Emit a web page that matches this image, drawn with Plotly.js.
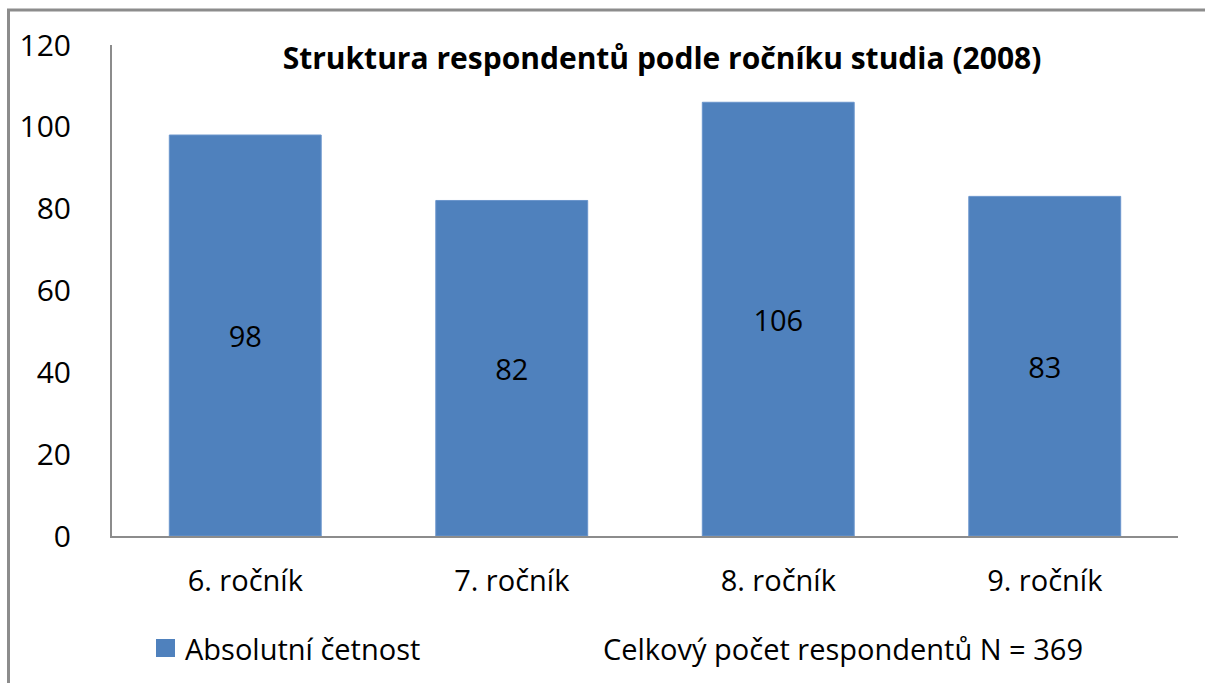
<!DOCTYPE html>
<html>
<head>
<meta charset="utf-8">
<script src="https://cdn.plot.ly/plotly-3.0.1.min.js"></script>
<style>html,body{margin:0;padding:0;background:#fff;}</style>
</head>
<body>
<div id="chart" style="width:1205px;height:683px;"></div>
<script>
const categories = ["6. ročník", "7. ročník", "8. ročník", "9. ročník"];
const values = [98, 82, 106, 83];
const seriesName = "Absolutní četnost";
const titleText = "Struktura respondentů podle ročníku studia (2008)";
const noteText = "Celkový počet respondentů N = 369";
const yTicks = [0, 20, 40, 60, 80, 100, 120];

const FONT = "Open Sans, Noto Sans, sans-serif";
const BAR_COLOR = "#4F81BD";

const L = 112, R = 1178, T = 45, B = 536, W = 1205, H = 683;
const px2x = p => (p - L) / (R - L);
const py2y = p => (B - p) / (B - T);

const trace = {
  type: "bar",
  x: categories,
  y: values,
  name: seriesName,
  text: values.map(String),
  textposition: "inside",
  insidetextanchor: "middle",
  textfont: {family: FONT, size: 29, color: "#000"},
  marker: {color: BAR_COLOR, line: {color: "#6A95CC", width: 1}},
  width: 0.57,
  showlegend: false,
  hoverinfo: "x+y"
};

const layout = {
  width: W, height: H,
  margin: {l: L, r: W - R, t: T, b: H - B, pad: 0},
  paper_bgcolor: "#fff",
  plot_bgcolor: "#fff",
  font: {family: FONT, color: "#000"},
  title: {
    text: "<b>" + titleText + "</b>",
    font: {family: FONT, size: 30, color: "#000"},
    x: 662 / W, xanchor: "center",
    y: 1 - 58 / H, yanchor: "middle"
  },
  xaxis: {
    type: "category",
    showgrid: false,
    showline: true, linecolor: "#8C8C8C", linewidth: 2,
    ticks: "",
    ticklabelstandoff: 18,
    tickfont: {family: FONT, size: 29, color: "#000"},
    fixedrange: true
  },
  yaxis: {
    range: [0, 120],
    tickvals: yTicks,
    ticktext: yTicks.map(String),
    showgrid: false, zeroline: false,
    showline: true, linecolor: "#8C8C8C", linewidth: 2,
    ticks: "",
    ticklabelstandoff: 33,
    tickfont: {family: FONT, size: 30, color: "#000"},
    fixedrange: true
  },
  showlegend: false,
  annotations: [
    {
      text: seriesName,
      xref: "paper", yref: "paper",
      x: px2x(183), xanchor: "left",
      y: py2y(648), yanchor: "middle",
      showarrow: false,
      font: {family: FONT, size: 29, color: "#000"}
    },
    {
      text: noteText,
      xref: "paper", yref: "paper",
      x: px2x(601), xanchor: "left",
      y: py2y(648), yanchor: "middle",
      showarrow: false,
      font: {family: FONT, size: 29, color: "#000"}
    }
  ],
  shapes: [
    {type: "rect", xref: "paper", yref: "paper",
     x0: px2x(156), x1: px2x(175), y0: py2y(639), y1: py2y(657),
     fillcolor: BAR_COLOR, line: {width: 0}},
    {type: "line", xref: "paper", yref: "paper",
     x0: px2x(8.5), x1: px2x(8.5), y0: py2y(10), y1: py2y(H + 5),
     line: {color: "#8C8C8C", width: 3}},
    {type: "line", xref: "paper", yref: "paper",
     x0: px2x(7), x1: px2x(W + 5), y0: py2y(10), y1: py2y(10),
     line: {color: "#8C8C8C", width: 3}}
  ]
};

Plotly.newPlot("chart", [trace], layout, {displayModeBar: false});
</script>
</body>
</html>
